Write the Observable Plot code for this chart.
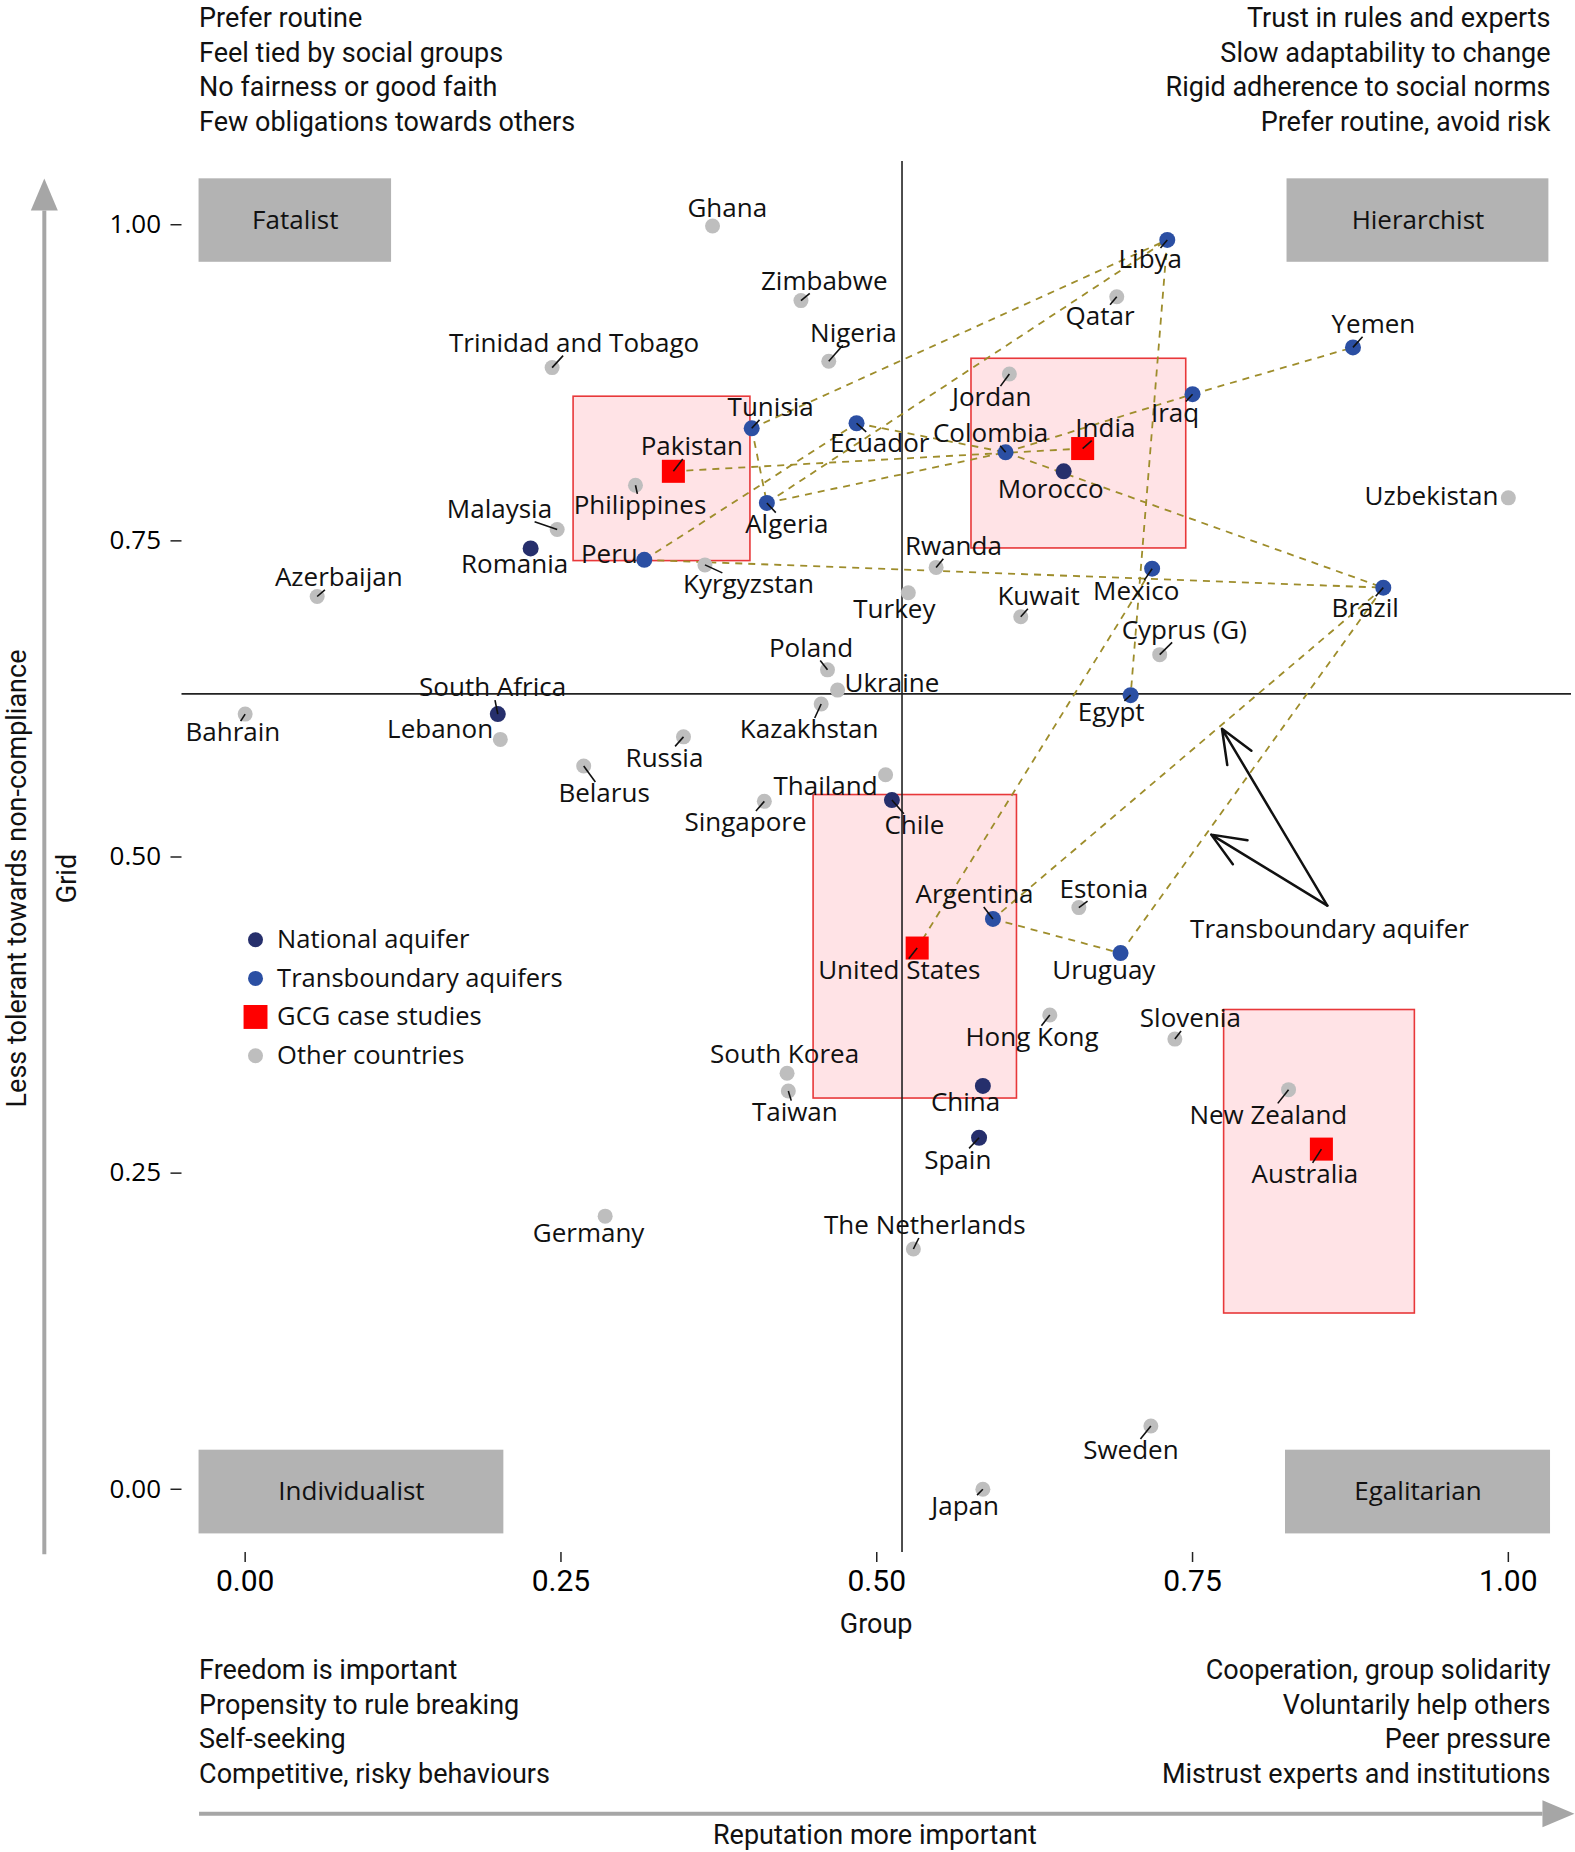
<!DOCTYPE html>
<html>
<head>
<meta charset="utf-8">
<script src="https://cdn.jsdelivr.net/npm/d3@7"></script>
<script src="https://cdn.jsdelivr.net/npm/@observablehq/plot@0.6"></script>
<style>
  html, body { margin: 0; padding: 0; background: #fff; }
  #chart { width: 1575px; height: 1852px; }
  #chart svg { overflow: visible; }
</style>
</head>
<body>
<div id="chart"></div>
<script>
// ---------------- DATA ----------------
const countries = [
  "Ghana","Zimbabwe","Qatar","Nigeria","Trinidad and Tobago","Jordan","Philippines","Malaysia",
  "Uzbekistan","Azerbaijan","Kyrgyzstan","Rwanda","Turkey","Kuwait","Cyprus (G)","Poland",
  "Ukraine","Kazakhstan","Bahrain","Lebanon","Russia","Belarus","Thailand","Singapore",
  "Estonia","Hong Kong","Slovenia","South Korea","Taiwan","New Zealand","Germany","The Netherlands",
  "Sweden","Japan",
  "Romania","South Africa","Morocco","Chile","China","Spain",
  "Libya","Yemen","Iraq","Tunisia","Ecuador","Colombia","Algeria","Peru","Mexico","Brazil",
  "Egypt","Argentina","Uruguay",
  "Pakistan","India","United States","Australia"
];
// Group score (x)
const groupScore = [
  0.370,0.440,0.690,0.462,0.243,0.605,0.309,0.247,
  1.000,0.057,0.364,0.547,0.525,0.614,0.724,0.461,
  0.469,0.456,0.000,0.202,0.347,0.268,0.507,0.411,
  0.660,0.637,0.736,0.429,0.430,0.826,0.285,0.529,
  0.717,0.584,
  0.226,0.200,0.648,0.512,0.584,0.581,
  0.730,0.877,0.750,0.401,0.484,0.602,0.413,0.316,0.718,0.901,
  0.701,0.592,0.693,
  0.339,0.663,0.532,0.852
];
// Grid score (y)
const gridScore = [
  0.999,0.940,0.943,0.892,0.887,0.882,0.794,0.759,
  0.784,0.706,0.731,0.729,0.709,0.690,0.660,0.648,
  0.632,0.621,0.613,0.593,0.595,0.572,0.565,0.544,
  0.460,0.375,0.356,0.329,0.315,0.316,0.216,0.190,
  0.050,0.000,
  0.744,0.613,0.805,0.545,0.319,0.278,
  0.988,0.903,0.866,0.839,0.843,0.820,0.780,0.735,0.728,0.713,
  0.628,0.451,0.424,
  0.805,0.823,0.428,0.269
];
const categories = ["National aquifer","Transboundary aquifers","GCG case studies","Other countries"];
const category = [
  ...Array(34).fill("Other countries"),
  ...Array(6).fill("National aquifer"),
  ...Array(13).fill("Transboundary aquifers"),
  ...Array(4).fill("GCG case studies")
];
// Countries sharing a transboundary aquifer
const sharedFrom = ["Tunisia","Algeria","Tunisia","Libya","Peru","Ecuador","Algeria","Pakistan","Colombia","Iraq","Colombia","Peru","Mexico","Brazil","Brazil","Argentina"];
const sharedTo   = ["Libya","Libya","Algeria","Egypt","Ecuador","Colombia","Colombia","India","Iraq","Yemen","Brazil","Brazil","United States","Argentina","Uruguay","Uruguay"];
// GCG case-study ranges
const caseStudy  = ["Pakistan","India","United States","Australia"];
const caseGroupLo = [0.260,0.575,0.450,0.775];
const caseGroupHi = [0.400,0.745,0.611,0.926];
const caseGridLo  = [0.734,0.744,0.309,0.139];
const caseGridHi  = [0.864,0.894,0.549,0.379];
// Sample means (cross-hair)
const meanGroup = 0.520;
const meanGrid = 0.629;
// Axis ticks
const tickValues = [0, 0.25, 0.5, 0.75, 1];
// Quadrant names and traits
const quadrants = ["Fatalist","Hierarchist","Individualist","Egalitarian"];
const quadrantText = [
  "Prefer routine\nFeel tied by social groups\nNo fairness or good faith\nFew obligations towards others",
  "Trust in rules and experts\nSlow adaptability to change\nRigid adherence to social norms\nPrefer routine, avoid risk",
  "Freedom is important\nPropensity to rule breaking\nSelf-seeking\nCompetitive, risky behaviours",
  "Cooperation, group solidarity\nVoluntarily help others\nPeer pressure\nMistrust experts and institutions"
];

// ---------------- LAYOUT (not data) ----------------
const W = 1575, H = 1852;
const mL = 181.5, mR = 4, mT = 161, mB = 300;
const kx = (W - mL - mR) / 1.1, ky = (H - mT - mB) / 1.1;
// label offsets from the point, in pixels [right, down]
const labelOffset = {
  "Ghana":[14.7,-17.7],"Zimbabwe":[23.3,-19.3],"Qatar":[-16.7,20],"Nigeria":[24.6,-28],
  "Trinidad and Tobago":[22,-24],"Jordan":[-17.7,24.2],"Philippines":[4.5,20.7],"Malaysia":[-57.7,-19.7],
  "Uzbekistan":[-76.8,-1.2],"Azerbaijan":[21.6,-18.7],"Kyrgyzstan":[43.5,20],"Rwanda":[17.3,-20.6],
  "Turkey":[-14,17],"Kuwait":[17.8,-20],"Cyprus (G)":[24.6,-24.3],"Poland":[-16.5,-21.4],
  "Ukraine":[54.3,-6],"Kazakhstan":[-12,26],"Bahrain":[-12.3,19],"Lebanon":[-60.2,-9.3],
  "Russia":[-19,21.5],"Belarus":[20.4,28],"Thailand":[-60,11.7],"Singapore":[-18.8,21.7],
  "Estonia":[25,-18.4],"Hong Kong":[-17.8,22.7],"Slovenia":[15.5,-20],"South Korea":[-2.5,-19],
  "Taiwan":[6.5,21.7],"New Zealand":[-20.2,25.7],"Germany":[-16.6,17.7],"The Netherlands":[11.4,-23],
  "Sweden":[-20,25],"Japan":[-17.8,17.8],
  "Romania":[-16,16.6],"South Africa":[-5.2,-26],"Morocco":[-13,18.3],"Chile":[22.5,25.7],
  "China":[-17.3,16.7],"Spain":[-21.3,22.6],
  "Libya":[-17,20],"Yemen":[20.4,-22.7],"Iraq":[-17.5,19.3],"Tunisia":[19,-20.4],
  "Ecuador":[23.2,20.6],"Colombia":[-15,-18.7],"Algeria":[20,21.7],"Peru":[-35,-5],
  "Mexico":[-15.9,23.4],"Brazil":[-18.1,20.6],"Egypt":[-19.4,17.7],"Argentina":[-18.4,-24],
  "Uruguay":[-16.7,17.3],
  "Pakistan":[18.5,-24.4],"India":[22.7,-20],"United States":[-17.9,22.7],"Australia":[-16.5,25.7]
};
const labelFont = "Open Sans";
const descFont = "Roboto";
const colors = {
  "National aquifer": "#262f6c",
  "Transboundary aquifers": "#2b4fa3",
  "GCG case studies": "#ff0000",
  "Other countries": "#bebebe"
};

// ---------------- BUILD ----------------
const points = countries.map((name, i) => ({name, group: groupScore[i], grid: gridScore[i], type: category[i]}));
const byName = new Map(points.map(d => [d.name, d]));

const ctx = document.createElement("canvas").getContext("2d");
ctx.font = `26px '${labelFont}'`;
const labels = points.map(d => {
  const [dx, dy] = labelOffset[d.name] || [0, -20];
  const w = ctx.measureText(d.name).width;
  const hw = w / 2 + 2, hh = 12;
  const tx = dx > 0 ? (dx - hw) / dx : dx < 0 ? (dx + hw) / dx : -Infinity;
  const ty = dy > 0 ? (dy - hh) / dy : dy < 0 ? (dy + hh) / dy : -Infinity;
  const t = Math.max(tx, ty);
  const len = t * Math.hypot(dx, dy);
  return {
    ...d,
    lx: d.group + dx / kx, ly: d.grid - dy / ky,
    seg: t > 0 && len > 8,
    ex: d.group + t * dx / kx, ey: d.grid - t * dy / ky
  };
});

const links = sharedFrom.map((a, i) => {
  const p = byName.get(a), q = byName.get(sharedTo[i]);
  return {x1: p.group, y1: p.grid, x2: q.group, y2: q.grid};
});
const boxes = caseStudy.map((c, i) => ({c, x1: caseGroupLo[i], x2: caseGroupHi[i], y1: caseGridLo[i], y2: caseGridHi[i]}));

// quadrant tag boxes (annotation layout, data units)
const quadBoxes = [
  {q: quadrants[0], x1: -0.0365, x2: 0.1159, y1: 0.9703, y2: 1.0363},
  {q: quadrants[1], x1: 0.8248,  x2: 1.0321, y1: 0.9703, y2: 1.0363},
  {q: quadrants[2], x1: -0.0365, x2: 0.2048, y1: -0.0353, y2: 0.0309},
  {q: quadrants[3], x1: 0.8236,  x2: 1.0334, y1: -0.0353, y2: 0.0309}
];
const descLeft  = [{t: quadrantText[0], x: -0.0365, y: 1.1240}, {t: quadrantText[2], x: -0.0365, y: -0.1825}];
const descRight = [{t: quadrantText[1], x: 1.0334,  y: 1.1240}, {t: quadrantText[3], x: 1.0334,  y: -0.1825}];
const legendRows = categories.map((c, i) => ({c, x: 0.0082, tx: 0.0253, y: [0.4346, 0.4040, 0.3735, 0.3428][i]}));
const calloutArrows = [
  {x1: 0.8567, y1: 0.4616, x2: 0.7733, y2: 0.6014},
  {x1: 0.8567, y1: 0.4616, x2: 0.7648, y2: 0.5177}
];
const arrowHead = {
  draw(context) {
    const w = 13.5, h = 32;
    context.moveTo(0, -h);
    context.lineTo(w, 0);
    context.lineTo(-w, 0);
    context.closePath();
  }
};
const axisArrowColor = "#a6a6a6";
const descSize = 27;

const chart = Plot.plot({
  width: W, height: H,
  marginLeft: mL, marginRight: mR, marginTop: mT, marginBottom: mB,
  x: {domain: [-0.05, 1.05]},
  y: {domain: [-0.05, 1.05]},
  style: {background: "white", overflow: "visible"},
  marks: [
    // case-study boxes
    Plot.rect(boxes, {x1: "x1", x2: "x2", y1: "y1", y2: "y2", fill: "#ffe3e6", stroke: "#e8383a", strokeWidth: 1.6}),
    // quadrant tags
    Plot.rect(quadBoxes, {x1: "x1", x2: "x2", y1: "y1", y2: "y2", fill: "#b3b3b3"}),
    Plot.text(quadBoxes, {x: d => (d.x1 + d.x2) / 2, y: d => (d.y1 + d.y2) / 2, text: "q", fontSize: 26, fontFamily: labelFont, fill: "#111"}),
    // cross-hair at means
    Plot.ruleX([meanGroup], {stroke: "#222", strokeWidth: 1.6}),
    Plot.ruleY([meanGrid], {stroke: "#222", strokeWidth: 1.6}),
    // shared aquifers
    Plot.link(links, {x1: "x1", y1: "y1", x2: "x2", y2: "y2", stroke: "#9e8d2b", strokeWidth: 1.8, strokeDasharray: "7,6"}),
    // points
    Plot.dot(points.filter(d => d.type === "Other countries"), {x: "group", y: "grid", r: 7.5, fill: colors["Other countries"]}),
    Plot.dot(points.filter(d => d.type === "National aquifer"), {x: "group", y: "grid", r: 8, fill: colors["National aquifer"]}),
    Plot.dot(points.filter(d => d.type === "Transboundary aquifers"), {x: "group", y: "grid", r: 8, fill: colors["Transboundary aquifers"]}),
    Plot.dot(points.filter(d => d.type === "GCG case studies"), {x: "group", y: "grid", r: 13, symbol: "square", fill: colors["GCG case studies"]}),
    // leader segments
    Plot.link(labels.filter(d => d.seg), {x1: "group", y1: "grid", x2: "ex", y2: "ey", stroke: "#111", strokeWidth: 1.6}),
    // labels
    Plot.text(labels, {x: "lx", y: "ly", text: "name", fontSize: 26, fontFamily: labelFont, fill: "#111"}),
    // legend
    Plot.dot(legendRows.filter(d => d.c !== "GCG case studies"), {x: "x", y: "y", r: 7.5, fill: d => colors[d.c]}),
    Plot.dot(legendRows.filter(d => d.c === "GCG case studies"), {x: "x", y: "y", r: 13.5, symbol: "square", fill: d => colors[d.c]}),
    Plot.text(legendRows, {x: "tx", y: "y", text: "c", textAnchor: "start", fontSize: 25.5, fontFamily: labelFont, fill: "#111"}),
    // callout
    Plot.arrow(calloutArrows, {x1: "x1", y1: "y1", x2: "x2", y2: "y2", stroke: "#111", strokeWidth: 2.5, headLength: 22, headAngle: 45}),
    Plot.text(["Transboundary aquifer"], {x: 0.8584, y: 0.4424, text: d => d, fontSize: 26, fontFamily: labelFont, fill: "#111"}),
    // axes
    Plot.axisX({ticks: tickValues, tickFormat: d3.format(".2f"), tickSize: 10, tickPadding: 7, fontSize: 30, fontFamily: descFont, stroke: "#222", strokeWidth: 1.5, label: null}),
    Plot.axisY({ticks: tickValues, tickFormat: d3.format(".2f"), tickSize: 11, tickPadding: 10, fontSize: 26, fontFamily: labelFont, stroke: "#222", strokeWidth: 1.5, label: null}),
    Plot.text(["Group"], {x: 0.4995, y: -0.1065, text: d => d, fontSize: descSize, fontFamily: descFont, fill: "#111"}),
    Plot.text(["Grid"], {x: -0.1406, y: 0.483, text: d => d, rotate: -90, fontSize: descSize, fontFamily: descFont, fill: "#111"}),
    Plot.text(["Less tolerant towards non-compliance"], {x: -0.1806, y: 0.483, text: d => d, rotate: -90, fontSize: descSize, fontFamily: descFont, fill: "#111"}),
    Plot.text(["Reputation more important"], {x: 0.4985, y: -0.2739, text: d => d, fontSize: descSize, fontFamily: descFont, fill: "#111"}),
    // quadrant descriptions
    Plot.text(descLeft, {x: "x", y: "y", text: "t", textAnchor: "start", lineHeight: 1.285, fontSize: descSize, fontFamily: descFont, fill: "#111"}),
    Plot.text(descRight, {x: "x", y: "y", text: "t", textAnchor: "end", lineHeight: 1.285, fontSize: descSize, fontFamily: descFont, fill: "#111"}),
    // axis arrows
    Plot.link([{x: -0.159, y1: -0.0514, y2: 1.0112}], {x1: "x", x2: "x", y1: "y1", y2: "y2", stroke: axisArrowColor, strokeWidth: 4}),
    Plot.dot([{x: -0.159, y: 1.0112}], {x: "x", y: "y", symbol: arrowHead, fill: axisArrowColor, r: 10}),
    Plot.link([{y: -0.2566, x1: -0.0365, x2: 1.0270}], {x1: "x1", x2: "x2", y1: "y", y2: "y", stroke: axisArrowColor, strokeWidth: 4}),
    Plot.dot([{x: 1.0270, y: -0.2566}], {x: "x", y: "y", symbol: arrowHead, rotate: 90, fill: axisArrowColor, r: 10})
  ]
});
document.getElementById("chart").appendChild(chart);
</script>
</body>
</html>
